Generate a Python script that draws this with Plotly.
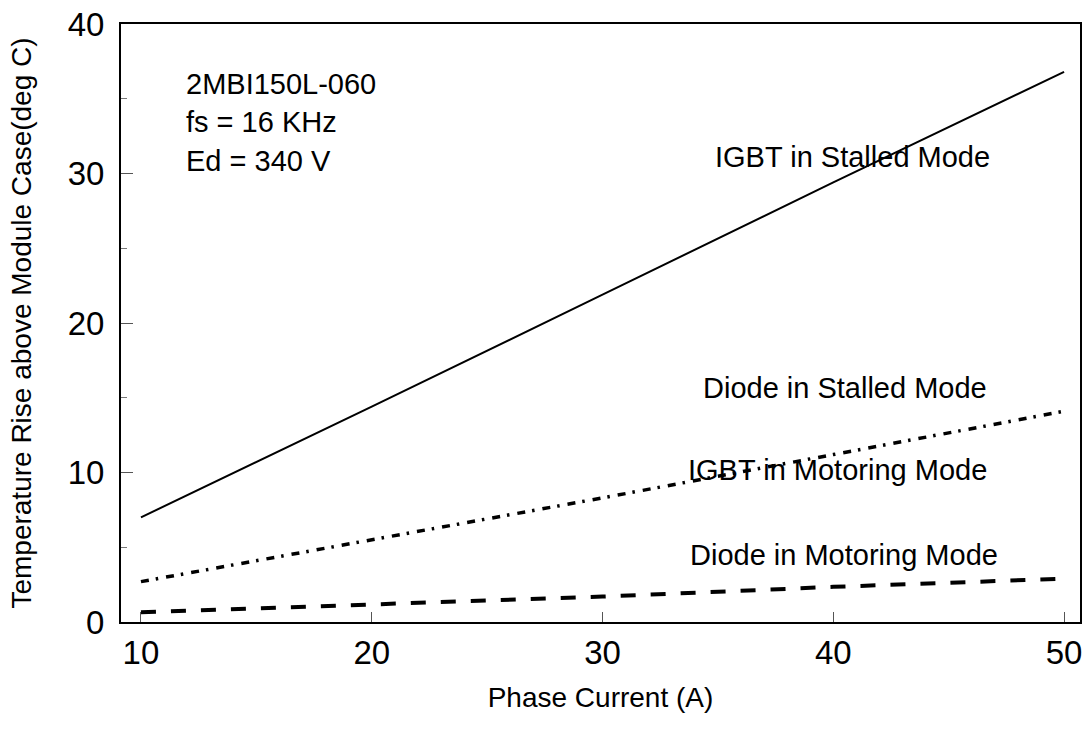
import plotly.graph_objects as go

# Phase current (A)
phase_current = [10, 20, 30, 40, 50]

# Temperature rise above module case (deg C)
igbt_stalled = [7.0, 14.4, 21.9, 29.4, 36.8]
diode_stalled = [2.7, 5.5, 8.3, 11.2, 14.1]
diode_motoring = [0.65, 1.15, 1.7, 2.35, 2.9]

curve_labels = ["IGBT in Stalled Mode", "Diode in Stalled Mode",
                "IGBT in Motoring Mode", "Diode in Motoring Mode"]
label_x = [40.83, 40.51, 40.2, 40.46]
label_y = [31.1, 15.65, 10.2, 4.45]

info_lines = ["2MBI150L-060", "fs = 16 KHz", "Ed = 340 V"]
info_y = [36.0, 33.45, 30.85]

x_ticks = [10, 20, 30, 40, 50]
y_ticks = [0, 10, 20, 30, 40]

FONT = "Liberation Sans, Arial, sans-serif"

fig = go.Figure()
fig.add_trace(go.Scatter(x=phase_current, y=igbt_stalled, mode="lines",
                         line=dict(color="black", width=2)))
fig.add_trace(go.Scatter(x=phase_current, y=diode_stalled, mode="lines",
                         line=dict(color="black", width=3.5, dash="8px,7px,2.5px,8px")))
fig.add_trace(go.Scatter(x=phase_current, y=diode_motoring, mode="lines",
                         line=dict(color="black", width=4, dash="15px,15px")))

for txt, xv, yv in zip(curve_labels, label_x, label_y):
    fig.add_annotation(x=xv, y=yv, xref="x", yref="y", text=txt, showarrow=False,
                       xanchor="center", yanchor="middle",
                       font=dict(size=29, color="black", family=FONT))

for txt, yv in zip(info_lines, info_y):
    fig.add_annotation(x=11.85, y=yv, xref="x", yref="y", text=txt, showarrow=False,
                       xanchor="left", yanchor="middle",
                       font=dict(size=29, color="black", family=FONT))

fig.update_layout(
    width=1088, height=729,
    margin=dict(l=121, r=6, t=21, b=107),
    paper_bgcolor="white", plot_bgcolor="white",
    showlegend=False,
    font=dict(family=FONT, color="black"),
)
fig.update_xaxes(
    range=[9.135, 50.69], tickvals=x_ticks, ticktext=[str(v) for v in x_ticks],
    ticks="inside", ticklen=10, tickwidth=1, tickcolor="#555",
    showline=True, linecolor="black", linewidth=2, mirror=True,
    showgrid=False, zeroline=False,
    tickfont=dict(size=33, family=FONT),
    title=dict(text="Phase Current (A)", font=dict(size=28, family=FONT), standoff=18),
)
fig.update_yaxes(
    range=[0, 40], tickvals=y_ticks, ticktext=[str(v) for v in y_ticks],
    ticks="inside", ticklen=12, tickwidth=1, tickcolor="#555",
    minor=dict(dtick=5, ticks="inside", ticklen=6, tickcolor="#777", tickwidth=1),
    showline=True, linecolor="black", linewidth=2, mirror=True,
    showgrid=False, zeroline=False,
    tickfont=dict(size=33, family=FONT), ticklabelstandoff=8,
    title=dict(text="Temperature Rise above Module Case(deg C)",
               font=dict(size=28, family=FONT), standoff=28),
)

fig.write_html("out.html")
